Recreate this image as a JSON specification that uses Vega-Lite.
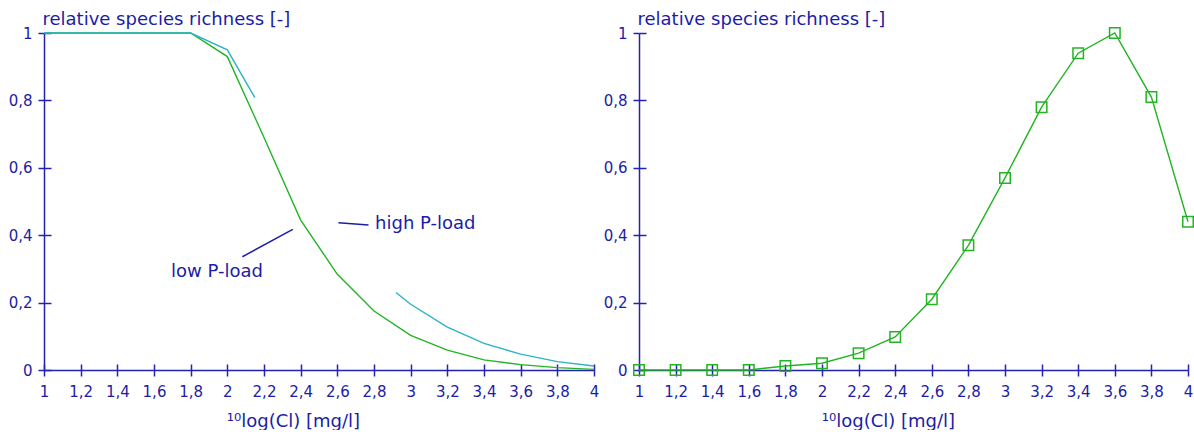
{
  "$schema": "https://vega.github.io/schema/vega-lite/v6.json",
  "padding": {"left": 8, "top": 10, "right": 0, "bottom": 0},
  "background": "white",
  "config": {
    "view": {"stroke": null},
    "font": "DejaVu Sans",
    "axis": {
      "domainColor": "#2323b0", "tickColor": "#2323b0",
      "labelColor": "#1c1ca6", "titleColor": "#1c1ca6",
      "labelFont": "DejaVu Sans", "titleFont": "DejaVu Sans",
      "labelFontSize": 15, "titleFontSize": 18, "titleFontWeight": "normal",
      "grid": false, "domainWidth": 1.5, "tickWidth": 1.5, "tickSize": 6
    }
  },
  "datasets": {
    "left": [
      {"series": "low P-load", "segment": "a", "x": 1, "y": 1},
      {"series": "low P-load", "segment": "a", "x": 1.2, "y": 1},
      {"series": "low P-load", "segment": "a", "x": 1.4, "y": 1},
      {"series": "low P-load", "segment": "a", "x": 1.6, "y": 1},
      {"series": "low P-load", "segment": "a", "x": 1.8, "y": 1},
      {"series": "low P-load", "segment": "a", "x": 2, "y": 0.93},
      {"series": "low P-load", "segment": "a", "x": 2.2, "y": 0.69},
      {"series": "low P-load", "segment": "a", "x": 2.4, "y": 0.445},
      {"series": "low P-load", "segment": "a", "x": 2.6, "y": 0.284},
      {"series": "low P-load", "segment": "a", "x": 2.8, "y": 0.175},
      {"series": "low P-load", "segment": "a", "x": 3, "y": 0.103},
      {"series": "low P-load", "segment": "a", "x": 3.2, "y": 0.059},
      {"series": "low P-load", "segment": "a", "x": 3.4, "y": 0.03},
      {"series": "low P-load", "segment": "a", "x": 3.6, "y": 0.016},
      {"series": "low P-load", "segment": "a", "x": 3.8, "y": 0.007},
      {"series": "low P-load", "segment": "a", "x": 4, "y": 0.002},
      {"series": "high P-load", "segment": "b", "x": 1, "y": 1},
      {"series": "high P-load", "segment": "b", "x": 1.8, "y": 1},
      {"series": "high P-load", "segment": "b", "x": 2, "y": 0.95},
      {"series": "high P-load", "segment": "b", "x": 2.15, "y": 0.808},
      {"series": "high P-load", "segment": "c", "x": 2.92, "y": 0.23},
      {"series": "high P-load", "segment": "c", "x": 3, "y": 0.195},
      {"series": "high P-load", "segment": "c", "x": 3.2, "y": 0.127},
      {"series": "high P-load", "segment": "c", "x": 3.4, "y": 0.079},
      {"series": "high P-load", "segment": "c", "x": 3.6, "y": 0.047},
      {"series": "high P-load", "segment": "c", "x": 3.8, "y": 0.025},
      {"series": "high P-load", "segment": "c", "x": 4, "y": 0.012}
    ],
    "labels": [
      {"label": "high P-load", "x": 2.806, "y": 0.433},
      {"label": "low P-load", "x": 1.693, "y": 0.292}
    ],
    "pointers": [
      {"x": 2.082, "y": 0.336, "x2": 2.357, "y2": 0.4175},
      {"x": 2.606, "y": 0.437, "x2": 2.77, "y2": 0.43}
    ],
    "right": [
      {"x": 1, "y": 0}, {"x": 1.2, "y": 0}, {"x": 1.4, "y": 0}, {"x": 1.6, "y": 0},
      {"x": 1.8, "y": 0.012}, {"x": 2, "y": 0.02}, {"x": 2.2, "y": 0.05}, {"x": 2.4, "y": 0.098},
      {"x": 2.6, "y": 0.21}, {"x": 2.8, "y": 0.37}, {"x": 3, "y": 0.57}, {"x": 3.2, "y": 0.78},
      {"x": 3.4, "y": 0.94}, {"x": 3.6, "y": 1}, {"x": 3.8, "y": 0.81}, {"x": 4, "y": 0.44}
    ]
  },
  "spacing": 45,
  "bounds": "flush",
  "hconcat": [
    {
      "width": 550, "height": 337,
      "resolve": {"axis": {"x": "independent", "y": "independent"}},
      "layer": [
        {
          "data": {"name": "left"},
          "mark": {"type": "line", "strokeWidth": 1.4},
          "encoding": {
            "x": {"field": "x", "type": "quantitative", "scale": {"domain": [1, 4], "nice": false, "zero": false},
              "axis": {"values": [1,1.2,1.4,1.6,1.8,2,2.2,2.4,2.6,2.8,3,3.2,3.4,3.6,3.8,4], "format": ".1~f",
                "labelExpr": "replace(datum.label, '.', ',')", "labelPadding": 8, "labelFlush": false,
                "title": "¹⁰log(Cl) [mg/l]", "titleX": 249, "titleY": 56, "titleAlign": "center", "titleBaseline": "alphabetic"}},
            "y": {"field": "y", "type": "quantitative", "scale": {"domain": [0, 1], "nice": false},
              "axis": {"values": [0,0.2,0.4,0.6,0.8,1], "format": ".1~f",
                "labelExpr": "replace(datum.label, '.', ',')", "labelPadding": 6, "labelFlush": false,
                "title": "relative species richness [-]", "titleAngle": 0, "titleX": -2, "titleY": -9,
                "titleAlign": "left", "titleBaseline": "alphabetic"}},
            "color": {"field": "series", "type": "nominal",
              "scale": {"domain": ["low P-load", "high P-load"], "range": ["#22b422", "#2ab4c4"]}, "legend": null},
            "detail": {"field": "segment"}
          }
        },
        {
          "data": {"name": "labels"},
          "mark": {"type": "text", "align": "left", "baseline": "middle", "fontSize": 18, "color": "#1c1ca6", "font": "DejaVu Sans"},
          "encoding": {
            "x": {"field": "x", "type": "quantitative", "axis": null},
            "y": {"field": "y", "type": "quantitative", "axis": null},
            "text": {"field": "label"}
          }
        },
        {
          "data": {"name": "pointers"},
          "mark": {"type": "rule", "color": "#1c1ca6", "strokeWidth": 1.5},
          "encoding": {
            "x": {"field": "x", "type": "quantitative",
              "axis": {"orient": "bottom", "values": [1,1.2,1.4,1.6,1.8,2,2.2,2.4,2.6,2.8,3,3.2,3.4,3.6,3.8,4], "tickSize": -6, "labels": false, "domain": false, "title": null}},
            "y": {"field": "y", "type": "quantitative",
              "axis": {"orient": "left", "values": [0,0.2,0.4,0.6,0.8,1], "tickSize": -7, "labels": false, "domain": false, "title": null}},
            "x2": {"field": "x2"},
            "y2": {"field": "y2"}
          }
        }
      ]
    },
    {
      "width": 549, "height": 337,
      "resolve": {"axis": {"x": "independent", "y": "independent"}},
      "data": {"name": "right"},
      "layer": [
        {
          "mark": {"type": "line", "strokeWidth": 1.4, "color": "#22b422"},
          "encoding": {
            "x": {"field": "x", "type": "quantitative", "scale": {"domain": [1, 4], "nice": false, "zero": false},
              "axis": {"values": [1,1.2,1.4,1.6,1.8,2,2.2,2.4,2.6,2.8,3,3.2,3.4,3.6,3.8,4], "format": ".1~f",
                "labelExpr": "replace(datum.label, '.', ',')", "labelPadding": 8, "labelFlush": false,
                "title": "¹⁰log(Cl) [mg/l]", "titleX": 249, "titleY": 56, "titleAlign": "center", "titleBaseline": "alphabetic"}},
            "y": {"field": "y", "type": "quantitative", "scale": {"domain": [0, 1], "nice": false},
              "axis": {"values": [0,0.2,0.4,0.6,0.8,1], "format": ".1~f",
                "labelExpr": "replace(datum.label, '.', ',')", "labelPadding": 6, "labelFlush": false,
                "title": "relative species richness [-]", "titleAngle": 0, "titleX": -2, "titleY": -9,
                "titleAlign": "left", "titleBaseline": "alphabetic"}}
          }
        },
        {
          "mark": {"type": "point", "shape": "square", "filled": false, "size": 110, "strokeWidth": 1.5, "color": "#22b422", "opacity": 1},
          "encoding": {
            "x": {"field": "x", "type": "quantitative",
              "axis": {"orient": "bottom", "values": [1,1.2,1.4,1.6,1.8,2,2.2,2.4,2.6,2.8,3,3.2,3.4,3.6,3.8,4], "tickSize": -6, "labels": false, "domain": false, "title": null}},
            "y": {"field": "y", "type": "quantitative",
              "axis": {"orient": "left", "values": [0,0.2,0.4,0.6,0.8,1], "tickSize": -7, "labels": false, "domain": false, "title": null}}
          }
        }
      ]
    }
  ]
}
